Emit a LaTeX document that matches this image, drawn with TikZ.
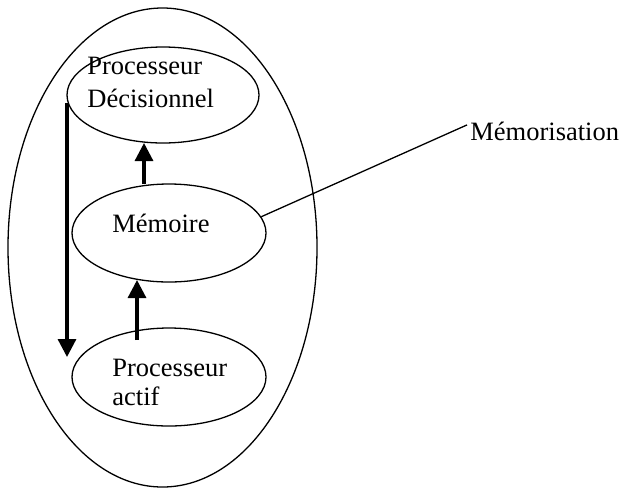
\documentclass[tikz,border=0pt]{standalone}
\usepackage{fontspec}
\setmainfont{Liberation Serif}
\usetikzlibrary{shapes.geometric,arrows.meta}
\begin{document}
\begin{tikzpicture}[x=0.5pt,y=-0.5pt,
  oval/.style={draw,ellipse,line width=0.65pt,inner sep=0pt},
  txt/.style={anchor=base west,inner sep=0pt,font=\fontsize{13.25}{16.5}\selectfont},
  thin/.style={line width=0.65pt},
  arr/.style={line width=1.6pt,-{Triangle[length=9pt,width=9pt]}}]
\useasboundingbox (0,0) rectangle (619,488);
\node[oval,minimum width=154.5pt,minimum height=239.5pt] (outer) at (162.5,247.5) {};
\node[oval,minimum width=96pt,minimum height=48pt] (top) at (163,95) {};
\node[oval,minimum width=97pt,minimum height=49pt] (mem) at (169,233) {};
\node[oval,minimum width=97pt,minimum height=49pt] (bot) at (169,377) {};
\node[txt] (t1) at (87,74) {Processeur};
\node[txt] (t2) at (87,107) {Décisionnel};
\node[txt] (t3) at (112,232) {Mémoire};
\node[txt] (t4) at (112,376) {Processeur};
\node[txt] (t5) at (112,405) {actif};
\node[txt] (lab) at (470,140) {Mémorisation};
\coordinate (ds) at (67,103);
\coordinate (de) at (67,357);
\coordinate (ms) at (144,184);
\coordinate (me) at (144,143);
\coordinate (bs) at (137,340);
\coordinate (be) at (137,280);
\draw[arr] (ds) -- (de);
\draw[arr] (ms) -- (me);
\draw[arr] (bs) -- (be);
\draw[thin] (mem.10) -- ([xshift=-1.5pt,yshift=3pt]lab.west);
\end{tikzpicture}
\end{document}
